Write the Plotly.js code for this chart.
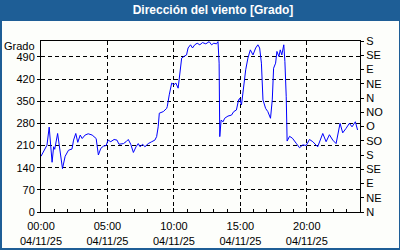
<!DOCTYPE html>
<html>
<head>
<meta charset="utf-8">
<script src="https://cdn.plot.ly/plotly-3.0.1.min.js"></script>
<style>
html,body{margin:0;padding:0;}
body{width:400px;height:250px;background:#1e5e96;position:relative;overflow:hidden;}
#panel{position:absolute;left:2px;top:21px;width:397px;height:227px;background:#fdfefb;}
#chart{position:absolute;left:0;top:0;width:400px;height:250px;}
</style>
</head>
<body>
<div id="panel"></div>
<div id="chart"></div>
<script>
const day = "2025-11-04";
const times = ["00:00","00:12","00:27","00:37","00:50","00:57","01:02","01:15","01:24","01:37","01:49","02:04","02:20","02:27","02:37","02:46","02:57","03:06","03:19","03:33","03:51","04:09","04:19","04:30","04:42","04:54","05:03","05:15","05:30","05:43","05:52","06:12","06:24","06:34","06:45","06:57","07:09","07:19","07:27","07:39","07:49","08:04","08:20","08:34","08:42","08:49","08:54","09:01","09:12","09:27","09:30","09:39","09:50","10:00","10:09","10:19","10:27","10:35","10:45","10:57","11:04","11:15","11:24","11:34","11:45","11:57","12:09","12:24","12:39","12:50","13:00","13:12","13:19","13:24","13:27","13:33","13:42","13:49","14:04","14:20","14:30","14:42","14:52","14:57","15:05","15:09","15:15","15:24","15:34","15:45","15:57","16:09","16:19","16:27","16:35","16:42","16:54","17:04","17:16","17:24","17:30","17:39","17:45","17:54","18:00","18:07","18:16","18:21","18:27","18:31","18:42","18:55","19:12","19:27","19:42","19:57","20:12","20:27","20:49","21:12","21:27","21:42","21:57","22:12","22:30","22:42","22:57","23:12","23:24","23:39","23:49"];
const direction = [176,190,211,268,157,206,198,248,201,137,176,195,199,227,248,220,243,232,243,247,243,232,180,201,208,210,227,222,229,227,214,216,222,229,214,188,206,216,206,214,206,216,222,227,238,269,312,314,317,327,333,370,407,402,407,391,443,486,491,496,518,528,518,528,533,528,535,531,538,528,533,531,538,470,238,290,285,296,303,306,317,322,354,359,338,359,407,449,486,512,496,518,528,518,470,354,327,317,296,354,454,470,507,491,512,496,528,475,364,224,239,233,217,203,212,210,229,222,206,248,222,244,227,216,280,250,264,280,269,285,259];
const leftTicks = [0,70,140,210,280,350,420,490];
const rightTicks = [0,45,90,135,180,225,270,315,360,405,450,495,540];
const rightLabels = ["N","NE","E","SE","S","SO","O","NO","N","NE","E","SE","S"];
const titleText = "Dirección del viento [Grado]";
const unitText = "Grado";

const xs = times.map(t => day + " " + t);
const fam = "Liberation Sans, Arial, sans-serif";

const data = [
  {x: xs, y: direction, type: "scatter", mode: "lines", line: {color: "#0000ff", width: 1}, hoverinfo: "skip"},
  {x: xs, y: direction, type: "scatter", mode: "lines", yaxis: "y2", line: {color: "rgba(0,0,0,0)", width: 1}, hoverinfo: "skip"}
];

const layout = {
  width: 400, height: 250,
  margin: {l: 41, r: 40, t: 41, b: 38, pad: 0},
  paper_bgcolor: "rgba(0,0,0,0)",
  plot_bgcolor: "rgba(0,0,0,0)",
  showlegend: false,
  font: {family: fam, size: 11, color: "#000"},
  title: {text: titleText, font: {family: fam, size: 12, color: "#ffffff", weight: 700}, x: 0.5325, xanchor: "center", y: 0.96, yanchor: "middle", xref: "container", yref: "container"},
  xaxis: {
    type: "date",
    range: [day + " 00:00", "2025-11-05 00:00"],
    dtick: 5 * 3600000,
    tick0: day + " 00:00",
    tickformat: "%H:%M<br>%d/%m/%y",
    ticks: "inside", ticklen: 4, tickcolor: "#000",
    ticklabelstandoff: 4,
    minor: {dtick: 3600000, ticks: "inside", ticklen: 3, tickcolor: "#000", showgrid: false},
    showgrid: true, gridcolor: "#000", gridwidth: 1, griddash: "4px,3px",
    showline: true, linecolor: "#000", linewidth: 1, mirror: true,
    zeroline: false,
    tickfont: {family: fam, size: 11, color: "#000"}
  },
  yaxis: {
    range: [0, 540],
    tickvals: leftTicks,
    ticks: "outside", ticklen: 3, tickcolor: "#000",
    showgrid: true, gridcolor: "#000", gridwidth: 1, griddash: "4px,3px",
    showline: true, linecolor: "#000", linewidth: 1,
    zeroline: false,
    tickfont: {family: fam, size: 11, color: "#000"}
  },
  yaxis2: {
    overlaying: "y", side: "right",
    range: [0, 540],
    tickvals: rightTicks, ticktext: rightLabels,
    ticks: "outside", ticklen: 3, tickcolor: "#000",
    showgrid: false, zeroline: false,
    showline: true, linecolor: "#000", linewidth: 1,
    tickfont: {family: fam, size: 11, color: "#000"}
  },
  annotations: [
    {text: unitText, xref: "paper", yref: "paper", x: 0, y: 1, xanchor: "right", yanchor: "middle", xshift: -4, yshift: -5, showarrow: false, font: {family: fam, size: 11, color: "#000"}}
  ]
};

Plotly.newPlot("chart", data, layout, {displayModeBar: false, staticPlot: true});
</script>
</body>
</html>
